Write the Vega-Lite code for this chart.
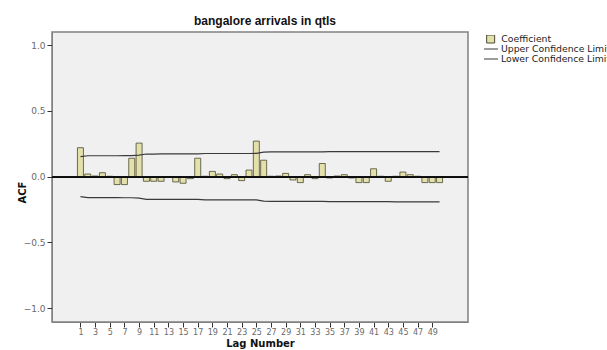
{
  "$schema": "https://vega.github.io/schema/vega-lite/v6.json",
  "width": 416,
  "height": 290,
  "autosize": {"type": "none"},
  "padding": {"left": 52, "top": 32, "right": 139, "bottom": 28},
  "background": "white",
  "title": {"text": "bangalore arrivals in qtls", "font": "Liberation Sans", "fontSize": 12, "fontWeight": "bold", "color": "#111111", "anchor": "middle", "offset": 4, "dx": 5},
  "config": {
    "view": {"fill": "#f0f0f0", "stroke": "#808080", "strokeWidth": 1.5},
    "legend": {"labelFont": "DejaVu Sans", "labelFontSize": 9.3, "labelColor": "#222222", "padding": 0, "rowPadding": 0, "labelLimit": 400}
  },
  "data": {"values": [
    {"lag": 1, "acf": 0.22, "upper": 0.152, "lower": -0.152},
    {"lag": 2, "acf": 0.02, "upper": 0.159, "lower": -0.159},
    {"lag": 3, "acf": 0.005, "upper": 0.159, "lower": -0.159},
    {"lag": 4, "acf": 0.03, "upper": 0.159, "lower": -0.159},
    {"lag": 5, "acf": 0.003, "upper": 0.159, "lower": -0.159},
    {"lag": 6, "acf": -0.06, "upper": 0.159, "lower": -0.159},
    {"lag": 7, "acf": -0.06, "upper": 0.16, "lower": -0.16},
    {"lag": 8, "acf": 0.14, "upper": 0.16, "lower": -0.16},
    {"lag": 9, "acf": 0.255, "upper": 0.163, "lower": -0.163},
    {"lag": 10, "acf": -0.035, "upper": 0.172, "lower": -0.172},
    {"lag": 11, "acf": -0.035, "upper": 0.172, "lower": -0.172},
    {"lag": 12, "acf": -0.035, "upper": 0.173, "lower": -0.173},
    {"lag": 13, "acf": -0.005, "upper": 0.173, "lower": -0.173},
    {"lag": 14, "acf": -0.04, "upper": 0.173, "lower": -0.173},
    {"lag": 15, "acf": -0.05, "upper": 0.173, "lower": -0.173},
    {"lag": 16, "acf": -0.015, "upper": 0.173, "lower": -0.173},
    {"lag": 17, "acf": 0.14, "upper": 0.173, "lower": -0.173},
    {"lag": 18, "acf": 0.003, "upper": 0.176, "lower": -0.176},
    {"lag": 19, "acf": 0.04, "upper": 0.176, "lower": -0.176},
    {"lag": 20, "acf": 0.02, "upper": 0.176, "lower": -0.176},
    {"lag": 21, "acf": -0.015, "upper": 0.176, "lower": -0.176},
    {"lag": 22, "acf": 0.015, "upper": 0.176, "lower": -0.176},
    {"lag": 23, "acf": -0.03, "upper": 0.176, "lower": -0.176},
    {"lag": 24, "acf": 0.05, "upper": 0.176, "lower": -0.176},
    {"lag": 25, "acf": 0.27, "upper": 0.177, "lower": -0.177},
    {"lag": 26, "acf": 0.125, "upper": 0.186, "lower": -0.186},
    {"lag": 27, "acf": 0.003, "upper": 0.188, "lower": -0.188},
    {"lag": 28, "acf": 0.005, "upper": 0.188, "lower": -0.188},
    {"lag": 29, "acf": 0.025, "upper": 0.188, "lower": -0.188},
    {"lag": 30, "acf": -0.025, "upper": 0.188, "lower": -0.188},
    {"lag": 31, "acf": -0.045, "upper": 0.188, "lower": -0.188},
    {"lag": 32, "acf": 0.015, "upper": 0.188, "lower": -0.188},
    {"lag": 33, "acf": -0.015, "upper": 0.188, "lower": -0.188},
    {"lag": 34, "acf": 0.1, "upper": 0.188, "lower": -0.188},
    {"lag": 35, "acf": -0.01, "upper": 0.19, "lower": -0.19},
    {"lag": 36, "acf": 0.005, "upper": 0.19, "lower": -0.19},
    {"lag": 37, "acf": 0.015, "upper": 0.19, "lower": -0.19},
    {"lag": 38, "acf": -0.01, "upper": 0.19, "lower": -0.19},
    {"lag": 39, "acf": -0.045, "upper": 0.19, "lower": -0.19},
    {"lag": 40, "acf": -0.045, "upper": 0.19, "lower": -0.19},
    {"lag": 41, "acf": 0.06, "upper": 0.19, "lower": -0.19},
    {"lag": 42, "acf": 0.003, "upper": 0.19, "lower": -0.19},
    {"lag": 43, "acf": -0.035, "upper": 0.19, "lower": -0.19},
    {"lag": 44, "acf": 0.003, "upper": 0.191, "lower": -0.191},
    {"lag": 45, "acf": 0.035, "upper": 0.191, "lower": -0.191},
    {"lag": 46, "acf": 0.015, "upper": 0.191, "lower": -0.191},
    {"lag": 47, "acf": 0.003, "upper": 0.191, "lower": -0.191},
    {"lag": 48, "acf": -0.045, "upper": 0.191, "lower": -0.191},
    {"lag": 49, "acf": -0.045, "upper": 0.191, "lower": -0.191},
    {"lag": 50, "acf": -0.045, "upper": 0.191, "lower": -0.191}
  ]},
  "layer": [
    {
      "mark": {"type": "bar", "size": 6, "stroke": "#4a4a30", "strokeWidth": 0.8},
      "encoding": {
        "x": {"field": "lag", "type": "quantitative",
          "scale": {"domain": [-2.2, 53.2], "nice": false, "zero": false},
          "axis": {"values": [1,3,5,7,9,11,13,15,17,19,21,23,25,27,29,31,33,35,37,39,41,43,45,47,49], "tickCount": 60,
            "title": "Lag Number", "titleFont": "DejaVu Sans", "titleFontSize": 10, "titleFontWeight": "bold", "titleColor": "#111111", "titlePadding": 2,
            "labelFont": "DejaVu Sans", "labelFontSize": 8, "labelColor": "#6a6a6a", "labelOverlap": false, "labelPadding": 1,
            "tickColor": "#333333", "tickSize": 5, "domainColor": "#808080", "grid": false}},
        "y": {"field": "acf", "type": "quantitative",
          "scale": {"domain": [-1.104, 1.099], "nice": false, "zero": false},
          "axis": {"values": [-1, -0.5, 0, 0.5, 1], "format": ".1f", "tickCount": 10,
            "title": "ACF", "titleFont": "DejaVu Sans", "titleFontSize": 10, "titleFontWeight": "bold", "titleColor": "#111111", "titleX": -30, "titleY": 160, "titleBaseline": "middle", "titleAlign": "center",
            "labelFont": "DejaVu Sans", "labelFontSize": 9, "labelColor": "#6a6a6a", "labelPadding": 2,
            "tickColor": "#333333", "tickSize": 5, "domainColor": "#808080", "grid": false}},
        "fill": {"datum": "Coefficient", "type": "nominal", "scale": {"range": ["#e4e0ac"]},
          "legend": {"title": null, "orient": "none", "legendX": 434, "legendY": 3, "symbolType": "square", "symbolSize": 64, "symbolStrokeColor": "#4a4a30", "symbolStrokeWidth": 1, "labelOffset": 6, "clipHeight": 8}}
      }
    },
    {
      "mark": {"type": "rule", "color": "#111111", "strokeWidth": 1},
      "encoding": {"y": {"datum": 0}}
    },
    {
      "transform": [{"fold": ["upper", "lower"], "as": ["limit", "value"]}],
      "mark": {"type": "line", "strokeWidth": 1.2},
      "encoding": {
        "x": {"field": "lag", "type": "quantitative"},
        "y": {"field": "value", "type": "quantitative"},
        "stroke": {"field": "limit", "type": "nominal",
          "scale": {"domain": ["upper", "lower"], "range": ["#3a3a3a", "#3a3a3a"]},
          "legend": {"title": null, "orient": "none", "legendX": 431, "legendY": 13, "symbolType": "stroke", "symbolSize": 196, "symbolStrokeWidth": 1.2, "clipHeight": 8, "labelOffset": 2,
            "labelExpr": "datum.label == 'upper' ? 'Upper Confidence Limit' : 'Lower Confidence Limit'"}}
      }
    }
  ]
}
